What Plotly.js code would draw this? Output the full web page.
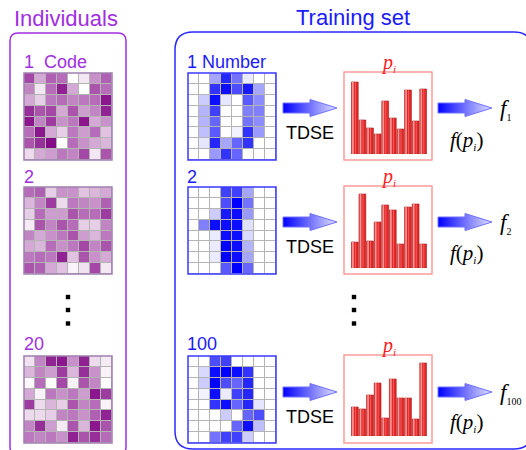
<!DOCTYPE html>
<html>
<head>
<meta charset="utf-8">
<script src="https://cdn.plot.ly/plotly-3.0.1.min.js"></script>
<style>html,body{margin:0;padding:0;background:#fff;}#chart{width:526px;height:450px;}</style>
</head>
<body>
<div id="chart"></div>
<script>
// ---------- data ----------
const purple1 = [
  [0.75,0.35,0.65,0.60,0.00,0.10,0.45,0.65],
  [0.50,0.10,0.60,0.90,0.35,0.00,0.70,0.60],
  [0.35,0.20,0.55,0.60,0.50,0.55,0.60,0.95],
  [0.85,0.70,0.75,0.35,0.70,0.40,0.50,0.90],
  [0.95,0.50,0.80,0.45,0.55,0.95,0.35,0.45],
  [0.60,0.95,0.35,0.20,0.55,0.40,0.60,0.25],
  [0.70,0.85,1.00,0.00,0.60,0.45,0.35,0.30],
  [0.15,0.35,0.40,0.55,0.50,0.75,0.10,0.70]
];
const purple2 = [
  [0.60,0.65,0.20,0.45,0.45,0.25,0.30,0.35],
  [0.30,0.50,0.80,0.15,0.55,0.50,0.45,0.65],
  [0.20,0.60,0.40,0.40,0.70,0.60,0.60,0.80],
  [0.08,0.70,0.50,0.70,0.60,0.20,0.20,0.50],
  [0.50,0.35,0.45,0.55,0.70,0.40,0.30,0.55],
  [0.35,0.30,0.60,0.45,0.55,0.75,0.50,0.70],
  [0.55,0.60,0.55,0.90,0.25,0.70,0.45,0.35],
  [0.70,0.65,0.35,0.25,0.05,0.12,0.75,0.10]
];
const purple3 = [
  [0.12,0.50,0.90,0.95,0.45,0.90,0.15,0.08],
  [0.30,0.50,0.40,0.80,0.30,0.85,0.45,0.05],
  [0.03,0.60,0.00,0.75,0.05,0.70,0.50,0.00],
  [0.35,0.05,0.55,0.45,0.55,0.40,0.95,0.80],
  [0.80,0.15,0.30,0.20,0.70,0.50,0.60,0.05],
  [0.15,0.15,0.20,0.50,0.55,0.45,0.65,0.90],
  [0.50,0.85,0.40,0.08,0.70,0.30,0.95,0.70],
  [0.55,0.50,0.55,0.45,0.90,0.70,0.85,0.60]
];
const digit1 = [
  [0,0,0.35,0.85,0.55,0.08,0,0],
  [0,0,0.80,0.95,0.70,0.90,0.35,0],
  [0,0.20,0.95,0.10,0,0.65,0.45,0],
  [0,0.30,0.75,0,0,0.50,0.50,0],
  [0,0.30,0.60,0,0,0.55,0.45,0],
  [0,0.25,0.65,0,0.05,0.80,0.40,0],
  [0,0.10,0.85,0.35,0.60,0.80,0,0],
  [0,0,0.40,0.80,0.60,0,0,0]
];
const digit2 = [
  [0,0,0,0.75,0.75,0.35,0,0],
  [0,0,0,0.70,1.00,0.55,0,0],
  [0,0,0.20,0.90,0.95,0.40,0,0],
  [0,0.50,0.95,0.95,0.95,0.12,0,0],
  [0,0,0.08,0.95,0.95,0.15,0,0],
  [0,0,0.08,1.00,0.95,0.30,0,0],
  [0,0,0.08,1.00,0.95,0.35,0,0],
  [0,0,0,0.65,1.00,0.60,0,0]
];
const digit3 = [
  [0,0,0.70,0.75,0,0,0,0],
  [0,0.15,0.95,1.00,0.95,0.80,0,0],
  [0,0.20,1.00,0.70,0.60,0.85,0,0],
  [0,0.05,0.95,0.08,0.75,0.85,0,0],
  [0,0,0.80,0.95,0.60,0.85,0.10,0],
  [0,0,0,0.20,0,0.60,0.70,0],
  [0,0,0,0,0.60,0.95,0.25,0],
  [0,0,0.55,0.75,0.75,0.20,0,0]
];
const bins = [1,2,3,4,5,6,7,8,9,10];
const p1 = [72,34,26,20,53,36,25,64,33,65];
const p2 = [26,74,27,46,63,58,24,61,64,24];
const p3 = [29,27,41,53,18,57,38,38,17,73];

const rowLabelsLeft = ['1  Code','2','20'];
const rowLabelsRight = ['1 Number','2','100'];
const fLabels = ['1','2','100'];

// ---------- layout helpers ----------
const W = 526, H = 450;
const xd = (a,b) => [a/W, b/W];
const yd = (a,b) => [1 - b/H, 1 - a/H];

const rowTop = [73, 187, 356];
const gridH = 87;
const histTop = [72, 186, 355];
const histBase = [154, 268, 436];
const arrowY = [108, 222, 392];
const tdseY = [133, 247, 417];
const fpY = [140, 253, 422];
const labelY = [62, 177, 344];

const purpleScale = [[0,'#ffffff'],[1,'#850a88']];
const blueScale = [[0,'#ffffff'],[1,'#0000ff']];

const traces = [];
const layout = {
  width: W, height: H,
  margin: {l:0,r:0,t:0,b:0},
  paper_bgcolor: '#ffffff',
  plot_bgcolor: 'rgba(0,0,0,0)',
  showlegend: false,
  shapes: [], annotations: []
};
const hideAx = (extra) => Object.assign({visible:false, showgrid:false, zeroline:false, fixedrange:true}, extra);

const purples = [purple1, purple2, purple3];
const digits = [digit1, digit2, digit3];
const pv = [p1, p2, p3];

let ax = 1;
function addHeat(z, scale, x0, x1, y0, y1, border, bw) {
  const n = ax++;
  const xs = n === 1 ? '' : n;
  traces.push({type:'heatmap', z:z, colorscale:scale, zmin:0, zmax:1, showscale:false,
    xgap:1, ygap:1, hoverinfo:'skip', xaxis:'x'+xs, yaxis:'y'+xs});
  layout['xaxis'+xs] = hideAx({domain: xd(x0,x1), range:[-0.5,7.5], anchor:'y'+xs});
  layout['yaxis'+xs] = hideAx({domain: yd(y0,y1), range:[7.5,-0.5], anchor:'x'+xs});
  layout.shapes.push({type:'rect', xref:'paper', yref:'paper', layer:'below',
    x0:x0/W, x1:x1/W, y0:1-y1/H, y1:1-y0/H, fillcolor:'#b4b4b4', line:{width:0}});
  layout.shapes.push({type:'rect', xref:'paper', yref:'paper', layer:'above',
    x0:x0/W, x1:x1/W, y0:1-y1/H, y1:1-y0/H, line:{color:border, width:bw}});
}
for (let r=0;r<3;r++) addHeat(purples[r], purpleScale, 24, 112, rowTop[r], rowTop[r]+gridH, '#a080b0', 1.5);
for (let r=0;r<3;r++) addHeat(digits[r], blueScale, 188, 276, rowTop[r], rowTop[r]+gridH, '#3a3aff', 1.5);

for (let r=0;r<3;r++) {
  const n = ax++;
  layout['xaxis'+n] = hideAx({domain: xd(351,427), range:[0.5,10.5], anchor:'y'+n});
  layout['yaxis'+n] = hideAx({domain: yd(histBase[r]-80, histBase[r]), range:[0,80], anchor:'x'+n});
  traces.push({type:'bar', x:bins, y:pv[r], width:0.9, xaxis:'x'+n, yaxis:'y'+n, hoverinfo:'skip',
    marker:{color:'#e02828', line:{color:'#a81818', width:0.6}}});
  traces.push({type:'bar', x:bins, y:pv[r], width:0.22, offset:-0.36, xaxis:'x'+n, yaxis:'y'+n, hoverinfo:'skip',
    marker:{color:'rgba(255,170,170,0.85)', line:{width:0}}});
  traces.push({type:'bar', x:bins, y:pv[r], width:0.12, offset:0.02, xaxis:'x'+n, yaxis:'y'+n, hoverinfo:'skip',
    marker:{color:'rgba(255,110,110,0.8)', line:{width:0}}});
  layout.shapes.push({type:'rect', xref:'paper', yref:'paper', layer:'above',
    x0:344/W, x1:432/W, y0:1-(histTop[r]+88)/H, y1:1-histTop[r]/H, line:{color:'#ff9a9a', width:1.5}});
}
layout.barmode = 'overlay';

// overlay axis in pixel units
const OV = ax++;
layout['xaxis'+OV] = hideAx({domain:[0,1], range:[0,W], anchor:'y'+OV});
layout['yaxis'+OV] = hideAx({domain:[0,1], range:[H,0], anchor:'x'+OV});
const XR = 'x'+OV, YR = 'y'+OV;

function rr(x0,y0,x1,y1,r){
  return `M ${x0+r},${y0} L ${x1-r},${y0} Q ${x1},${y0} ${x1},${y0+r} L ${x1},${y1-r} Q ${x1},${y1} ${x1-r},${y1} L ${x0+r},${y1} Q ${x0},${y1} ${x0},${y1-r} L ${x0},${y0+r} Q ${x0},${y0} ${x0+r},${y0} Z`;
}
layout.shapes.push({type:'path', xref:XR, yref:YR, path: rr(10,33,126,455,8), line:{color:'#a12ee0', width:1.5}});
layout.shapes.push({type:'path', xref:XR, yref:YR, path: rr(175,32,532,449,18), line:{color:'#2a2aff', width:1.5}});

// ellipsis dots
[297,310,323.5].forEach(y => {
  [68,354].forEach(x => {
    layout.shapes.push({type:'rect', xref:XR, yref:YR, x0:x-2.2, x1:x+2.2, y0:y-2.2, y1:y+2.2, fillcolor:'#000', line:{width:0}});
  });
});

function arrow(x0, yc) {
  const xh = x0+27, x1 = x0+54;
  traces.push({type:'scatter', mode:'lines', xaxis:XR, yaxis:YR, hoverinfo:'skip',
    x:[x0,xh,xh,x1,xh,xh,x0,x0], y:[yc-5,yc-5,yc-8.5,yc,yc+8.5,yc+5,yc+5,yc-5],
    fill:'toself', fillgradient:{type:'horizontal', colorscale:[[0,'#0000ff'],[1,'#e2e2ff']]},
    line:{color:'#7070ff', width:1}});
}
for (let r=0;r<3;r++) { arrow(283, arrowY[r]); arrow(438, arrowY[r]); }

const A = (text, x, y, font, xanchor) => layout.annotations.push({text, x, y, xref:XR, yref:YR,
  showarrow:false, xanchor: xanchor||'center', yanchor:'middle', font});
const sans = (size, color) => ({family:'Liberation Sans, Arial, sans-serif', size, color});
const serif = (size, color) => ({family:'Liberation Serif, Times New Roman, serif', size, color});
const small = (t, s) => '<span style="font-size:' + s + 'px">' + t + '</span>';

A('Individuals', 12, 18, sans(22,'#a12ee0'), 'left');
A('Training set', 294, 17, sans(22,'#1a1aff'), 'left');
for (let r=0;r<3;r++) {
  A(rowLabelsLeft[r], 22, labelY[r], sans(18,'#a12ee0'), 'left');
  A(rowLabelsRight[r], 185, labelY[r], sans(18,'#1a1aff'), 'left');
  A('TDSE', 310, tdseY[r], sans(18,'#000'));
  A('<i>p</i><sub>' + small('<i>i</i>', 11) + '</sub>', 388, histTop[r]-9, serif(20,'#ff1a1a'));
  A('<i>f</i>(<i>p</i><sub>' + small('<i>i</i>', 11) + '</sub>)', 466, fpY[r], serif(21,'#000'));
  A('<i>f</i><sub>' + small(fLabels[r], 10) + '</sub>', 498, arrowY[r]+1, serif(23,'#000'), 'left');
}

Plotly.newPlot('chart', traces, layout, {staticPlot:true, displayModeBar:false});
</script>
</body>
</html>
